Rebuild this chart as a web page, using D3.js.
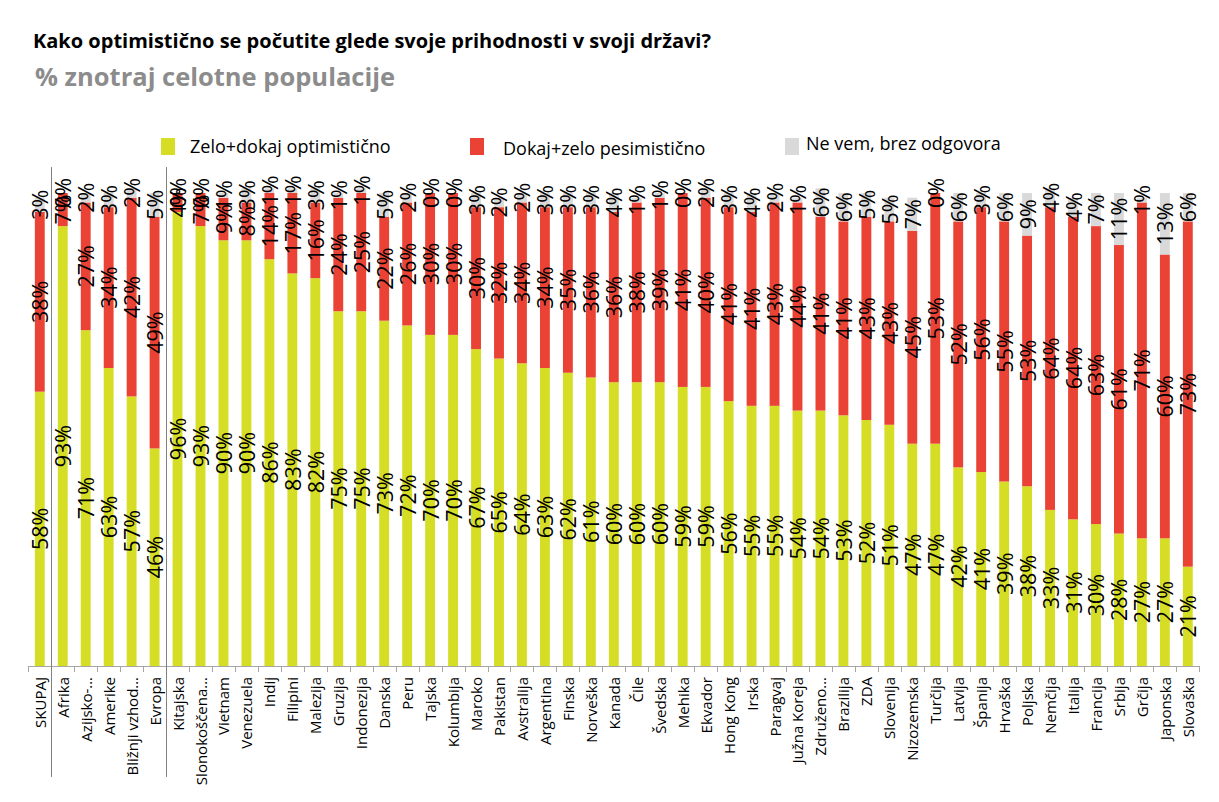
<!DOCTYPE html>
<html>
<head>
<meta charset="utf-8">
<script src="https://cdn.jsdelivr.net/npm/d3@7"></script>
<style>
  body { margin: 0; background: #fff; }
  svg { display: block; font-family: "Open Sans", sans-serif; }
</style>
</head>
<body>
<svg id="chart" width="1219" height="802"></svg>
<script>
const categories = ['SKUPAJ', 'Afrika', 'Azijsko-…', 'Amerike', 'Bližnji vzhod…', 'Evropa',
  'Kitajska', 'Slonokoščena…', 'Vietnam', 'Venezuela', 'Indij', 'Filipini', 'Malezija', 'Gruzija',
  'Indonezija', 'Danska', 'Peru', 'Tajska', 'Kolumbija', 'Maroko', 'Pakistan', 'Avstralija',
  'Argentina', 'Finska', 'Norveška', 'Kanada', 'Čile', 'Švedska', 'Mehika', 'Ekvador', 'Hong Kong',
  'Irska', 'Paragvaj', 'Južna Koreja', 'Združeno…', 'Brazilija', 'ZDA', 'Slovenija', 'Nizozemska',
  'Turčija', 'Latvija', 'Španija', 'Hrvaška', 'Poljska', 'Nemčija', 'Italija', 'Francija', 'Srbija',
  'Grčija', 'Japonska', 'Slovaška'];

const optimistic = [58, 93, 71, 63, 57, 46, 96, 93, 90, 90, 86, 83, 82, 75, 75, 73, 72, 70, 70, 67,
  65, 64, 63, 62, 61, 60, 60, 60, 59, 59, 56, 55, 55, 54, 54, 53, 52, 51, 47, 47, 42, 41, 39, 38,
  33, 31, 30, 28, 27, 27, 21];
const pessimistic = [38, 7, 27, 34, 42, 49, 4, 7, 9, 8, 14, 17, 16, 24, 25, 22, 26, 30, 30, 30,
  32, 34, 34, 35, 36, 36, 38, 39, 41, 40, 41, 41, 43, 44, 41, 41, 43, 43, 45, 53, 52, 56, 55, 53,
  64, 64, 63, 61, 71, 60, 73];
const dontKnow = [3, 0, 2, 3, 2, 5, 0, 0, 1, 3, 1, 1, 3, 1, 1, 5, 2, 0, 0, 3,
  2, 2, 3, 3, 3, 4, 1, 1, 0, 2, 3, 4, 2, 1, 6, 6, 5, 5, 7, 0, 6, 3, 6, 9,
  4, 4, 7, 11, 1, 13, 6];

const seriesKeys = ['Zelo+dokaj optimistično', 'Dokaj+zelo pesimistično', 'Ne vem, brez odgovora'];
const seriesColors = ['#d5de24', '#ea4335', '#d9d9d9'];
const groupBreaks = [1, 6]; // separator before these category indexes

const svg = d3.select('#chart');

const x = d3.scaleBand().domain(categories).range([28.3, 1199.3]).padding(0);
const y = d3.scaleLinear().domain([0, 100]).range([666, 193]);
const barW = x.bandwidth() * 0.43;

const rows = categories.map((c, i) => ({
  cat: c,
  [seriesKeys[0]]: optimistic[i],
  [seriesKeys[1]]: pessimistic[i],
  [seriesKeys[2]]: dontKnow[i]
}));
const stacked = d3.stack().keys(seriesKeys)(rows);
const color = d3.scaleOrdinal().domain(seriesKeys).range(seriesColors);

// titles
svg.append('text')
  .attr('x', 33).attr('y', 48)
  .style('font-size', '20px').style('font-weight', 700).attr('fill', '#000')
  .text('Kako optimistično se počutite glede svoje prihodnosti v svoji državi?');
svg.append('text')
  .attr('x', 35).attr('y', 86)
  .style('font-size', '25.5px').style('font-weight', 700).attr('fill', '#8c8c8c')
  .text('% znotraj celotne populacije');

// legend
const legendX = [161, 470, 785];
const legendTextX = [190, 503, 806];
const legendY = [146, 148, 143];
const legend = svg.append('g').selectAll('g').data(seriesKeys).join('g');
legend.append('rect')
  .attr('x', (d, i) => legendX[i]).attr('y', 138)
  .attr('width', 14).attr('height', 17)
  .attr('fill', d => color(d));
legend.append('text')
  .attr('x', (d, i) => legendTextX[i]).attr('y', (d, i) => legendY[i])
  .attr('dominant-baseline', 'central')
  .style('font-size', '18px')
  .text(d => d);

// bars
const layers = svg.append('g').selectAll('g').data(stacked).join('g')
  .attr('fill', d => color(d.key));
layers.selectAll('rect').data(d => d).join('rect')
  .attr('x', d => x(d.data.cat) + (x.bandwidth() - barW) / 2)
  .attr('width', barW)
  .attr('y', d => y(d[1]))
  .attr('height', d => y(d[0]) - y(d[1]));

// axis line and boundary ticks
const axis = svg.append('g').attr('stroke', '#a6a6a6').attr('stroke-width', 1);
axis.append('line')
  .attr('x1', x.range()[0]).attr('x2', x.range()[1])
  .attr('y1', y(0) + 0.5).attr('y2', y(0) + 0.5);
const bounds = categories.map(c => x(c)).concat([x.range()[1]]);
axis.selectAll('line.tick').data(bounds).join('line')
  .attr('class', 'tick')
  .attr('x1', d => Math.round(d) + 0.5).attr('x2', d => Math.round(d) + 0.5)
  .attr('y1', y(0)).attr('y2', y(0) + 6);

// group separators
svg.append('g').selectAll('line').data(groupBreaks).join('line')
  .attr('x1', i => Math.round(x(categories[i])) + 0.5)
  .attr('x2', i => Math.round(x(categories[i])) + 0.5)
  .attr('y1', 167).attr('y2', 777)
  .attr('stroke', '#808080').attr('stroke-width', 1);

// category labels
svg.append('g').selectAll('text').data(categories).join('text')
  .attr('transform', d => `translate(${x(d) + x.bandwidth() / 2},${y(0) + 11}) rotate(-90)`)
  .attr('text-anchor', 'end')
  .attr('dominant-baseline', 'central')
  .style('font-size', '15px')
  .attr('fill', '#000')
  .text(d => d);

// value labels
const labels = stacked.flatMap(s => s.map(d => ({ cat: d.data.cat, y0: d[0], y1: d[1] })));
svg.append('g').selectAll('text').data(labels).join('text')
  .attr('transform', d => `translate(${x(d.cat) + x.bandwidth() / 2},${(y(d.y0) + y(d.y1)) / 2}) rotate(-90)`)
  .attr('text-anchor', 'middle')
  .attr('dominant-baseline', 'central')
  .style('font-size', '21.5px')
  .attr('fill', '#000')
  .text(d => `${d.y1 - d.y0}%`);
</script>
</body>
</html>
